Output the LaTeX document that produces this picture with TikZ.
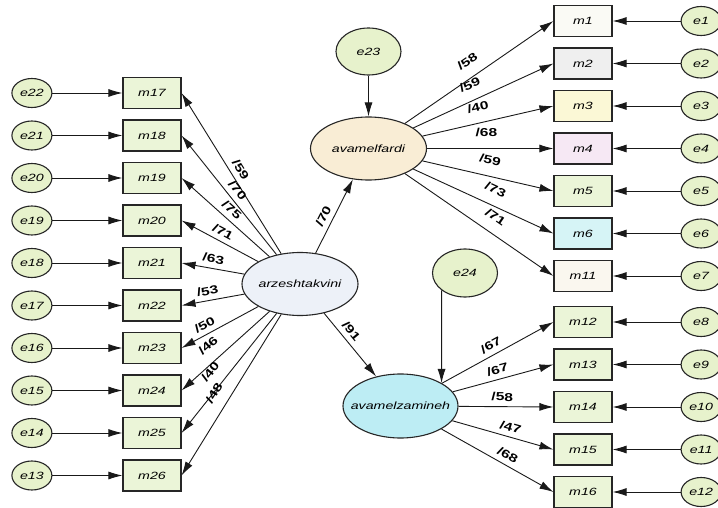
\documentclass[tikz,border=0pt]{standalone}
\usepackage{fontspec}
\newfontfamily\amos[FakeStretch=1.35]{Liberation Sans}
\usetikzlibrary{positioning,shapes.geometric,arrows.meta}

\definecolor{obsgreen}{HTML}{EBF5D8}
\definecolor{errgreen}{HTML}{E7F2CC}
\definecolor{mwhite}{HTML}{FAFAF5}
\definecolor{mgray}{HTML}{EFEFEF}
\definecolor{myellow}{HTML}{FBF8D6}
\definecolor{mpink}{HTML}{F6E8F4}
\definecolor{mcyan}{HTML}{D6F4F6}
\definecolor{mcream}{HTML}{FAF7EF}
\definecolor{fardicol}{HTML}{F9EDD5}
\definecolor{arzcol}{HTML}{EDF1F8}
\definecolor{zamcol}{HTML}{BDEDF4}

\begin{document}
\begin{tikzpicture}[x=1pt,y=-1pt,
    obs/.style={draw=black!85, line width=1.1pt, fill=obsgreen, minimum width=58pt, minimum height=31pt, inner sep=0pt, font=\amos\itshape\fontsize{10.5}{12}\selectfont},
    err/.style={ellipse, draw=black!85, line width=1.1pt, fill=errgreen, minimum width=40pt, minimum height=29pt, inner sep=0pt, font=\amos\itshape\fontsize{10.5}{12}\selectfont},
    lat/.style={ellipse, draw=black!85, line width=1.1pt, inner sep=0pt, minimum width=116pt, minimum height=63pt},
    lattext/.style={inner sep=0pt, font=\amos\itshape\fontsize{10.5}{12}\selectfont},
    reg/.style={-{Latex[length=14pt,width=8pt]}, line width=0.9pt, draw=black!90},
    lbl/.style={sloped, above=4pt, inner sep=1pt, font=\amos\bfseries\fontsize{11.5}{13}\selectfont},
    lblfar/.style={lbl, above=10pt}
]
    \path[use as bounding box, fill=white] (0,0) rectangle (718,508);

    % indicators of arzeshtakvini
    \node[obs] (m17) at (152,93) {m17};
    \node[obs, below=10.4pt of m17] (m18) {m18};
    \node[obs, below=10.4pt of m18] (m19) {m19};
    \node[obs, below=10.4pt of m19] (m20) {m20};
    \node[obs, below=10.4pt of m20] (m21) {m21};
    \node[obs, below=10.4pt of m21] (m22) {m22};
    \node[obs, below=10.4pt of m22] (m23) {m23};
    \node[obs, below=10.4pt of m23] (m24) {m24};
    \node[obs, below=10.4pt of m24] (m25) {m25};
    \node[obs, below=10.4pt of m25] (m26) {m26};

    \node[err, left=70pt of m17] (e22) {e22};
    \node[err, left=70pt of m18] (e21) {e21};
    \node[err, left=70pt of m19] (e20) {e20};
    \node[err, left=70pt of m20] (e19) {e19};
    \node[err, left=70pt of m21] (e18) {e18};
    \node[err, left=70pt of m22] (e17) {e17};
    \node[err, left=70pt of m23] (e16) {e16};
    \node[err, left=70pt of m24] (e15) {e15};
    \node[err, left=70pt of m25] (e14) {e14};
    \node[err, left=70pt of m26] (e13) {e13};

    % indicators of avamelfardi
    \node[obs, fill=mwhite] (m1) at (583,21) {m1};
    \node[obs, fill=mgray, below=10.4pt of m1] (m2) {m2};
    \node[obs, fill=myellow, below=10.4pt of m2] (m3) {m3};
    \node[obs, fill=mpink, below=10.4pt of m3] (m4) {m4};
    \node[obs, below=10.4pt of m4] (m5) {m5};
    \node[obs, fill=mcyan, below=10.4pt of m5] (m6) {m6};
    \node[obs, fill=mcream, below=10.4pt of m6] (m11) {m11};

    % indicators of avamelzamineh
    \node[obs, below=13.9pt of m11] (m12) {m12};
    \node[obs, below=10.4pt of m12] (m13) {m13};
    \node[obs, below=10.4pt of m13] (m14) {m14};
    \node[obs, below=10.4pt of m14] (m15) {m15};
    \node[obs, below=10.4pt of m15] (m16) {m16};

    \node[err, right=68pt of m1] (e1) {e1};
    \node[err, right=68pt of m2] (e2) {e2};
    \node[err, right=68pt of m3] (e3) {e3};
    \node[err, right=68pt of m4] (e4) {e4};
    \node[err, right=68pt of m5] (e5) {e5};
    \node[err, right=68pt of m6] (e6) {e6};
    \node[err, right=68pt of m11] (e7) {e7};
    \node[err, right=68pt of m12] (e8) {e8};
    \node[err, right=68pt of m13] (e9) {e9};
    \node[err, right=68pt of m14] (e10) {e10};
    \node[err, right=68pt of m15] (e11) {e11};
    \node[err, right=68pt of m16] (e12) {e12};

    % latent variables
    \node[err, minimum width=65pt, minimum height=47pt] (e23) at (368.5,51.5) {e23};
    \node[lat, fill=fardicol, label={[lattext]center:avamelfardi}] (avf) at (368.5,148.5) {};
    \node[lat, fill=arzcol, label={[lattext]center:arzeshtakvini}] (arz) at (300,284) {};
    \node[lat, fill=zamcol, minimum width=115pt, minimum height=64pt, label={[lattext]center:avamelzamineh}] (avz) at (400.5,406) {};
    \node[err, minimum width=65pt, minimum height=48pt] (e24) at (465,273) {e24};

    % structural paths
    \draw[reg] (e23) -- (avf);
    \draw[reg] (e24.south west) -- (avz.north east);
    \draw[reg] (arz) -- node[lbl, pos=.44] {/70} (avf);
    \draw[reg] (arz) -- node[lbl, pos=.38] {/91} (avz);

    % loadings of arzeshtakvini
    \draw[reg] (arz) -- node[lbl, pos=.49] {/59} (m17.east);
    \draw[reg] (arz) -- node[lbl, pos=.49] {/70} (m18.east);
    \draw[reg] (arz) -- node[lbl, pos=.50] {/75} (m19.east);
    \draw[reg] (arz) -- node[lbl, pos=.52] {/71} (m20.east);
    \draw[reg] (arz) -- node[lbl, pos=.52] {/63} (m21.east);
    \draw[reg] (arz) -- node[lbl, pos=.56] {/53} (m22.east);
    \draw[reg] (arz) -- node[lbl, pos=.64] {/50} (m23.east);
    \draw[reg] (arz) -- node[lblfar, pos=.58] {/46} (m24.east);
    \draw[reg] (arz) -- node[lblfar, pos=.57] {/40} (m25.east);
    \draw[reg] (arz) -- node[lblfar, pos=.54] {/48} (m26.east);

    % loadings of avamelfardi
    \draw[reg] (avf) -- node[lblfar, pos=.48] {/58} (m1.west);
    \draw[reg] (avf) -- node[lblfar, pos=.45] {/59} (m2.west);
    \draw[reg] (avf) -- node[lblfar, pos=.45] {/40} (m3.west);
    \draw[reg] (avf) -- node[lblfar, pos=.47] {/68} (m4.west);
    \draw[reg] (avf) -- node[lblfar, pos=.49] {/59} (m5.west);
    \draw[reg] (avf) -- node[lblfar, pos=.54] {/73} (m6.west);
    \draw[reg] (avf) -- node[lblfar, pos=.55] {/71} (m11.west);

    % loadings of avamelzamineh
    \draw[reg] (avz) -- node[lbl, pos=.48] {/67} (m12.west);
    \draw[reg] (avz) -- node[lbl, pos=.47] {/67} (m13.west);
    \draw[reg] (avz) -- node[lbl, pos=.46] {/58} (m14.west);
    \draw[reg] (avz) -- node[lbl, pos=.55] {/47} (m15.west);
    \draw[reg] (avz) -- node[lbl, pos=.55] {/68} (m16.west);

    % error terms
    \draw[reg] (e22) -- (m17);
    \draw[reg] (e21) -- (m18);
    \draw[reg] (e20) -- (m19);
    \draw[reg] (e19) -- (m20);
    \draw[reg] (e18) -- (m21);
    \draw[reg] (e17) -- (m22);
    \draw[reg] (e16) -- (m23);
    \draw[reg] (e15) -- (m24);
    \draw[reg] (e14) -- (m25);
    \draw[reg] (e13) -- (m26);
    \draw[reg] (e1) -- (m1);
    \draw[reg] (e2) -- (m2);
    \draw[reg] (e3) -- (m3);
    \draw[reg] (e4) -- (m4);
    \draw[reg] (e5) -- (m5);
    \draw[reg] (e6) -- (m6);
    \draw[reg] (e7) -- (m11);
    \draw[reg] (e8) -- (m12);
    \draw[reg] (e9) -- (m13);
    \draw[reg] (e10) -- (m14);
    \draw[reg] (e11) -- (m15);
    \draw[reg] (e12) -- (m16);
\end{tikzpicture}
\end{document}
